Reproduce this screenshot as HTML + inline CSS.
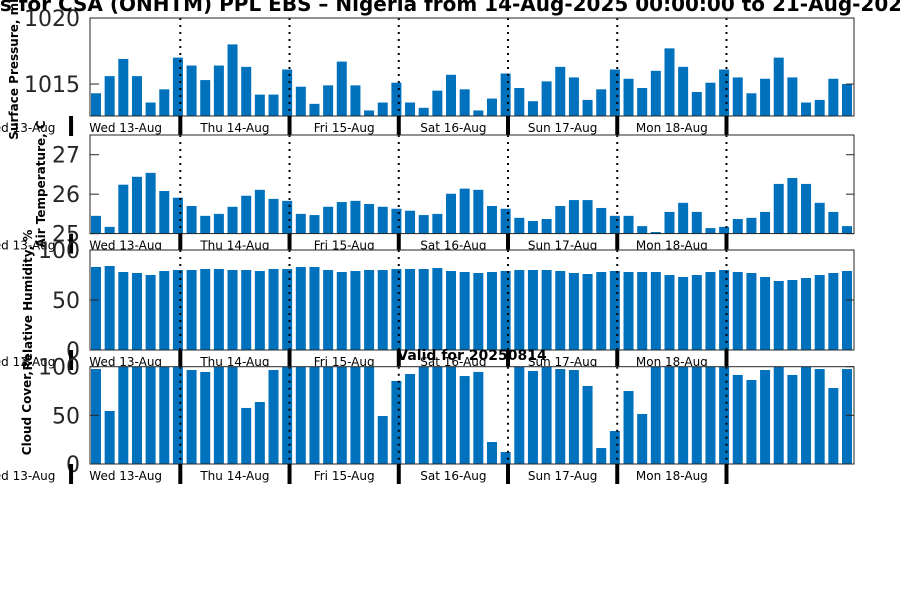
<!DOCTYPE html>
<html><head><meta charset="utf-8"><style>
html,body{margin:0;padding:0;background:#fff;}
svg{display:block;font-family:"DejaVu Sans","Liberation Sans",sans-serif;}
</style></head><body>
<svg id="chart" width="900" height="600" viewBox="0 0 900 600" xmlns="http://www.w3.org/2000/svg">
<rect width="900" height="600" fill="#fff"/>
<text x="-97" y="11" font-size="20" font-weight="bold" fill="#000">Forecasts for CSA (ONHTM) PPL EBS  – Nigeria from 14-Aug-2025 00:00:00 to 21-Aug-2025 00:00:00</text>
<g id="panels"></g>
<text x="472" y="360" font-size="14" font-weight="bold" text-anchor="middle" fill="#000">Valid for 20250814</text>
</svg>
<script>
const dayLabels = ["Wed 13-Aug","Wed 13-Aug","Thu 14-Aug","Fri 15-Aug","Sat 16-Aug","Sun 17-Aug","Mon 18-Aug"];
const pressure = [1014.3,1015.6,1016.9,1015.6,1013.6,1014.6,1017.0,1016.4,1015.3,1016.4,1018.0,1016.3,1014.2,1014.2,1016.1,1014.8,1013.5,1014.9,1016.7,1014.9,1013.0,1013.6,1015.1,1013.6,1013.2,1014.5,1015.7,1014.6,1013.0,1013.9,1015.8,1014.7,1013.7,1015.2,1016.3,1015.5,1013.8,1014.6,1016.1,1015.4,1014.7,1016.0,1017.7,1016.3,1014.4,1015.1,1016.1,1015.5,1014.3,1015.4,1017.0,1015.5,1013.6,1013.8,1015.4,1015.0];
const temperature = [25.45,25.17,26.24,26.44,26.54,26.08,25.91,25.70,25.45,25.50,25.68,25.96,26.11,25.88,25.83,25.50,25.47,25.68,25.80,25.83,25.75,25.68,25.63,25.58,25.47,25.50,26.01,26.14,26.11,25.70,25.63,25.40,25.32,25.37,25.70,25.85,25.85,25.65,25.45,25.45,25.19,25.04,25.55,25.78,25.55,25.14,25.17,25.37,25.40,25.55,26.26,26.41,26.26,25.78,25.55,25.19];
const humidity = [83,84,78,77,75,79,80,80,81,81,80,80,79,81,81,83,83,80,78,79,80,80,81,81,81,82,79,78,77,78,79,80,80,80,79,77,76,78,79,78,78,78,75,73,75,78,80,78,77,73,69,70,72,75,77,79];
const cloud = [97.6,54.5,100,100,100,100,100,96.6,94.6,100,100,57.6,63.7,96.6,100,100,100,100,100,100,100,49.3,85.3,92.5,100,100,100,90.4,94.6,22.6,12.3,100,95.6,100,97.6,96.6,80.2,16.4,33.9,75.0,51.4,100,100,100,100,100,100,91.5,86.3,96.6,100,91.5,100,97.6,78.1,97.6];
const pressureTicks = [1015,1020];
const temperatureTicks = [25,26,27];
const humidityTicks = [0,50,100];
const cloudTicks = [0,50,100];

const NS="http://www.w3.org/2000/svg";
const root=document.getElementById('panels');
function mk(tag,attrs,parent){const e=document.createElementNS(NS,tag);for(const k in attrs)e.setAttribute(k,attrs[k]);(parent||root).appendChild(e);return e;}
const X0=90,X1=854;
const step=(842-91)/55;
function xBar(i){return 91+i*step;}
function xDay(k){return 180.3+(k-1)*step*8;}

const panels=[
 {key:"pressure",data:pressure,ticks:pressureTicks,min:1012.58,max:1020,top:18,bot:116,title:"Surface Pressure, mb",tx:14,ty:67},
 {key:"temperature",data:temperature,ticks:temperatureTicks,min:25,max:27.5,top:135,bot:233.6,title:"Air Temperature, C",tx:41,ty:184},
 {key:"humidity",data:humidity,ticks:humidityTicks,min:0,max:100,top:250,bot:350,title:"Relative Humidity, %",tx:28,ty:300},
 {key:"cloud",data:cloud,ticks:cloudTicks,min:0,max:100,top:366.7,bot:464,title:"Cloud Cover, %",tx:27,ty:405}
];

panels.forEach(p=>{
  const g=mk('g',{});
  
  
  const y=v=>p.bot-(v-p.min)/(p.max-p.min)*(p.bot-p.top);
  mk('rect',{x:X0,y:p.top,width:X1-X0,height:p.bot-p.top,fill:'#fff'},g);
  p.data.forEach((v,i)=>{
    const yy=Math.max(p.top,y(v));
    const r=mk('rect',{x:xBar(i),y:yy,width:10,height:Math.max(0,p.bot-yy),fill:'#0072bd'},g);
    
    
  });
  for(let k=1;k<=6;k++){
    const l=mk('line',{x1:xDay(k),x2:xDay(k),y1:p.top,y2:p.bot,stroke:'#000','stroke-width':2,'stroke-dasharray':'2,5'},g);
    
    
  }
  mk('rect',{x:X0,y:p.top,width:X1-X0,height:p.bot-p.top,fill:'none',stroke:'#262626','stroke-width':1},g);
  p.ticks.forEach(t=>{
    const yy=y(t);
    mk('line',{x1:X0,x2:X0+9,y1:yy,y2:yy,stroke:'#262626'},g);
    mk('line',{x1:X1-8,x2:X1,y1:yy,y2:yy,stroke:'#262626'},g);
    const tl=mk('text',{x:80,y:yy+8,'font-size':22,'text-anchor':'end',fill:'#262626'},g);
    tl.textContent=String(t);
    
    
  });
  const at=mk('text',{x:0,y:0,'font-size':12,'font-weight':'bold','text-anchor':'middle',fill:'#000',transform:`translate(${p.tx+4},${p.ty}) rotate(-90)`},g);
  at.textContent=p.title;
  
  
  for(let k=0;k<=6;k++){
    const xx=xDay(k);
    const tk=mk('rect',{x:xx-2,y:p.bot,width:4,height:20,fill:'#000'},g);
    
    
  }
  dayLabels.forEach((d,k)=>{
    const cx=k===0?19:(xDay(k-1)+xDay(k))/2;
    const t=mk('text',{x:cx,y:p.bot+16,'font-size':12,'text-anchor':'middle',fill:'#000'},g);
    t.textContent=d;
    
    
  });
});
</script>
</body></html>
